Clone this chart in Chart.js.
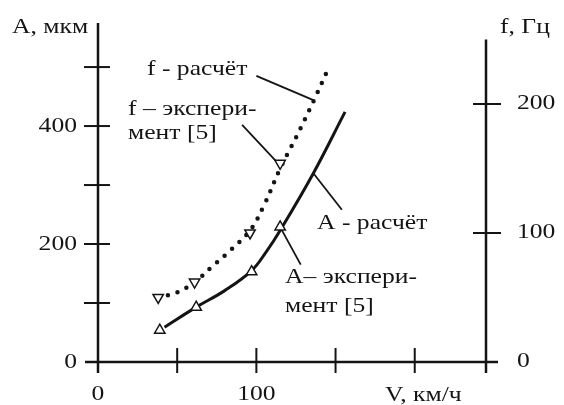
<!DOCTYPE html>
<html>
<head>
<meta charset="utf-8">
<script src="https://cdn.jsdelivr.net/npm/chart.js@4.4.0/dist/chart.umd.min.js"></script>
<style>
  body { margin: 0; background: #fff; }
  canvas { display: block; }
</style>
</head>
<body>
<canvas id="chart" width="564" height="405"></canvas>
<script>
// speed V, km/h and values
const aCalcV = [42, 62, 80, 97, 106, 115, 136, 156];
const aCalc = [59, 93, 121, 155, 186, 223, 320, 424];
const aExpV = [39, 62, 97, 115];
const aExp = [54, 93, 153, 229];

const fCalcV = [38, 50, 61, 72, 84, 96, 105, 115, 125, 136, 146];
const fCalc = [50, 54, 62, 74, 87, 102, 122, 150, 174, 202, 229];
const fExpV = [38, 61, 96, 115];
const fExp = [50, 62, 100, 154];

// axis ticks
const vTickMarks = [50, 100, 150, 200];
const vTickValues = [0, 100];
const vTickLabels = ["0", "100"];
const aTickMarks = [100, 200, 300, 400, 500];
const aTickValues = [0, 200, 400];
const aTickLabels = ["0", "200", "400"];
const fTickMarks = [100, 200];
const fTickValues = [0, 100, 200];
const fTickLabels = ["0", "100", "200"];

const FONT = "21px 'Liberation Serif', 'Times New Roman', serif";
const INK = "#141414";

function toPoints(xs, ys) {
  return xs.map((x, i) => ({ x: x, y: ys[i] }));
}

// serif text, stretched a little horizontally like the scan
function text(ctx, str, x, y, align) {
  ctx.save();
  ctx.translate(x, y);
  ctx.scale(1.22, 1);
  ctx.font = FONT;
  ctx.fillStyle = INK;
  ctx.textAlign = align || "left";
  ctx.textBaseline = "alphabetic";
  ctx.fillText(str, 0, 0);
  ctx.restore();
}

function line(ctx, x1, y1, x2, y2, w) {
  ctx.beginPath();
  ctx.lineWidth = w;
  ctx.moveTo(x1, y1);
  ctx.lineTo(x2, y2);
  ctx.stroke();
}

const axesPlugin = {
  id: "axes",
  beforeDatasetsDraw(chart) {
    const ctx = chart.ctx;
    const { x, yA, yF } = chart.scales;
    const x0 = x.getPixelForValue(0);
    const xR = x.right;
    const y0 = yA.getPixelForValue(0);

    ctx.save();
    ctx.strokeStyle = INK;
    ctx.lineCap = "butt";

    // left axis and ticks
    line(ctx, x0, yA.top - 1, x0, y0 + 11, 2.5);
    aTickMarks.forEach((v) => {
      const p = yA.getPixelForValue(v);
      line(ctx, x0 - 14, p, x0 + 12, p, 2);
    });

    // bottom axis and ticks
    line(ctx, x0 - 13, y0, xR + 12, y0, 2.5);
    vTickMarks.forEach((v) => {
      const p = x.getPixelForValue(v);
      line(ctx, p, y0 - 14, p, y0 + 11, 2);
    });

    // right axis and ticks
    line(ctx, xR, yF.getPixelForValue(250), xR, y0 + 11, 2.5);
    fTickMarks.forEach((v) => {
      const p = yF.getPixelForValue(v);
      line(ctx, xR - 13, p, xR + 15, p, 2);
    });

    // leader lines, in data units (V, A)
    const leaders = [
      [100, 485, 136, 444],
      [91, 402, 113, 339],
      [136, 320, 154, 258],
      [116, 224, 128, 165],
    ];
    leaders.forEach(([v1, a1, v2, a2]) => {
      line(ctx, x.getPixelForValue(v1), yA.getPixelForValue(a1),
        x.getPixelForValue(v2), yA.getPixelForValue(a2), 1.8);
    });
    ctx.restore();
  },
  afterDraw(chart) {
    const ctx = chart.ctx;
    const { x, yA, yF } = chart.scales;
    const x0 = x.getPixelForValue(0);
    const xR = x.right;
    const y0 = yA.getPixelForValue(0);

    aTickValues.forEach((v, i) => {
      text(ctx, aTickLabels[i], x0 - 21, yA.getPixelForValue(v) + 6, "right");
    });
    vTickValues.forEach((v, i) => {
      text(ctx, vTickLabels[i], x.getPixelForValue(v), y0 + 38, "center");
    });
    fTickValues.forEach((v, i) => {
      text(ctx, fTickLabels[i], xR + 31, yF.getPixelForValue(v) + 5, "left");
    });

    text(ctx, "A, мкм", 12, 33);
    text(ctx, "f, Гц", 500, 33);
    text(ctx, "V, км/ч", 385, 401);

    text(ctx, "f - расчёт", 147, 75);
    text(ctx, "f – экспери-", 128, 115);
    text(ctx, "мент [5]", 128, 139);
    text(ctx, "A - расчёт", 317, 229);
    text(ctx, "A– экспери-", 285, 283);
    text(ctx, "мент [5]", 285, 312);
  },
};

new Chart(document.getElementById("chart"), {
  type: "scatter",
  data: {
    datasets: [
      {
        label: "A – эксперимент [5]",
        data: toPoints(aExpV, aExp),
        yAxisID: "yA",
        pointStyle: "triangle",
        pointRadius: 6,
        pointBackgroundColor: "#fff",
        pointBorderColor: INK,
        pointBorderWidth: 1.5,
        order: 0,
      },
      {
        label: "f – эксперимент [5]",
        data: toPoints(fExpV, fExp),
        yAxisID: "yF",
        pointStyle: "triangle",
        pointRotation: 180,
        pointRadius: 6,
        pointBackgroundColor: "#fff",
        pointBorderColor: INK,
        pointBorderWidth: 1.5,
        order: 0,
      },
      {
        label: "A - расчёт",
        data: toPoints(aCalcV, aCalc),
        yAxisID: "yA",
        showLine: true,
        pointRadius: 0,
        borderColor: INK,
        borderWidth: 3,
        tension: 0.4,
        order: 1,
      },
      {
        label: "f - расчёт",
        data: toPoints(fCalcV, fCalc),
        yAxisID: "yF",
        showLine: true,
        pointRadius: 0,
        borderColor: INK,
        borderWidth: 4.5,
        borderDash: [0, 10],
        borderCapStyle: "round",
        tension: 0.4,
        order: 1,
      },
    ],
  },
  options: {
    responsive: false,
    animation: false,
    devicePixelRatio: 1,
    layout: { padding: { left: 98, right: 78, top: 24, bottom: 43 } },
    plugins: {
      legend: { display: false },
      tooltip: { enabled: false },
    },
    scales: {
      x: { type: "linear", min: 0, max: 245, display: false },
      yA: { type: "linear", position: "left", min: 0, max: 573, display: false },
      yF: { type: "linear", position: "right", min: 0, max: 262, display: false },
    },
  },
  plugins: [axesPlugin],
});
</script>
</body>
</html>
